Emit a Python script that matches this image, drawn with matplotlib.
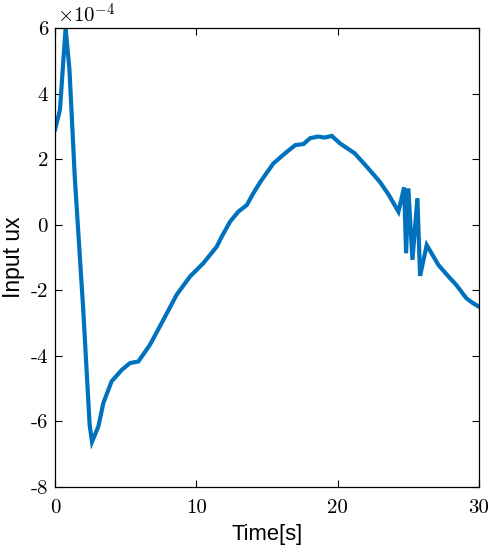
import matplotlib
matplotlib.use("Agg")
import matplotlib.pyplot as plt

# Data (time in s, input ux in units of 1e-4)
t = [0.0, 0.35, 0.75, 1.02, 1.2, 1.4, 2.0, 2.45, 2.62, 3.07, 3.42, 4.0, 4.72, 5.3, 5.9,
     6.72, 7.67, 8.6, 9.55, 10.5, 11.44, 11.8, 12.38, 12.97, 13.57, 14.03, 14.55,
     15.45, 16.28, 17.0, 17.57, 18.05, 18.6, 19.1, 19.58, 20.17, 21.2, 22.06, 23.0,
     23.6, 24.3, 24.7, 24.84, 25.0, 25.29, 25.64, 25.83, 26.3, 27.13, 27.95, 28.4,
     29.1, 29.6, 30.0]
ux = [2.9, 3.5, 6.0, 4.75, 3.2, 1.45, -2.6, -6.1, -6.62, -6.15, -5.44, -4.78, -4.43, -4.22, -4.17,
      -3.66, -2.9, -2.14, -1.58, -1.17, -0.67, -0.36, 0.09, 0.40, 0.60, 0.96, 1.32,
      1.87, 2.18, 2.43, 2.46, 2.64, 2.69, 2.66, 2.71, 2.48, 2.18, 1.77, 1.3,
      0.92, 0.40, 1.14, -0.87, 1.11, -1.07, 0.81, -1.56, -0.62, -1.23, -1.63, -1.84,
      -2.24, -2.4, -2.5]

xticks = [0, 10, 20, 30]
yticks = [-8, -6, -4, -2, 0, 2, 4, 6]

plt.rcParams['mathtext.fontset'] = 'cm'

fig = plt.figure(figsize=(4.91, 5.5), dpi=100)
ax = fig.add_axes([0.112, 0.1145, 0.8636, 0.8345])
ax.plot(t, ux, color='#0072BD', linewidth=3.0, solid_joinstyle='miter')
ax.set_xlim(0, 30)
ax.set_ylim(-8, 6)

tick_font = dict(family='cmr10', size=15)
ax.set_xticks(xticks)
ax.set_xticklabels([str(v) for v in xticks], fontdict=tick_font)
ax.set_yticks(yticks)
ax.set_yticklabels([str(v) for v in yticks], fontdict=tick_font)
ax.tick_params(direction='in', length=5, width=0.8, top=True, right=True)
ax.tick_params(axis='x', pad=9)
ax.tick_params(axis='y', pad=5)
for s in ax.spines.values():
    s.set_linewidth(0.9)

ax.set_xlabel('Time[s]', family='Liberation Sans', fontsize=15.8, labelpad=5)
ax.set_ylabel('Input ux', family='Liberation Sans', fontsize=16.5, labelpad=4)

ax.text(0.004, 1.003, r'$\times10^{-4}$', transform=ax.transAxes, ha='left', va='bottom',
        fontsize=15)

fig.savefig('out.png', dpi=100)
